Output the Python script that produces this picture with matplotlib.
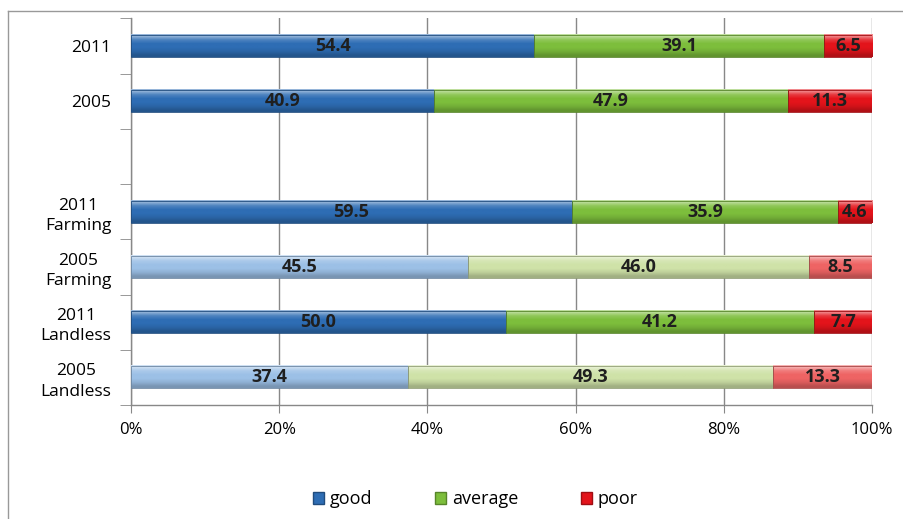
import matplotlib.pyplot as plt
import matplotlib.colors as mcolors
from matplotlib.lines import Line2D
from matplotlib.patches import Patch
import numpy as np

categorias = ["2011", "2005", "", "2011\nFarming", "2005\nFarming", "2011\nLandless", "2005\nLandless"]
bueno = [54.4, 40.9, np.nan, 59.5, 45.5, 50.0, 37.4]
medio = [39.1, 47.9, np.nan, 35.9, 46.0, 41.2, 49.3]
pobre = [6.5, 11.3, np.nan, 4.6, 8.5, 7.7, 13.3]
# filas 2005 por grupo dibujadas en tono claro
claro = [False, False, False, False, True, False, True]

series = ["good", "average", "poor"]
colores = {"good": "#2E6DB4", "average": "#7DBE3C", "poor": "#E3141B"}
colores_claros = {"good": "#9CC0E6", "average": "#CFE2A8", "poor": "#EE6464"}

plt.rcParams["font.family"] = ["Open Sans", "DejaVu Sans"]


def relleno_degradado(ax, barra, color):
    """Rellena una barra con un degradado vertical tipo bisel."""
    x, y = barra.get_x(), barra.get_y()
    w, h = barra.get_width(), barra.get_height()
    base = np.array(mcolors.to_rgb(color))
    luz = base + (1 - base) * 0.5
    sombra = base * 0.78
    filas = np.array([luz, base + (1 - base) * 0.15, base, base, base * 0.92, sombra])
    ax.imshow(filas[:, None, :], extent=(x, x + w, y, y + h), origin="upper",
              aspect="auto", interpolation="bilinear", zorder=3)


def main():
    fig = plt.figure(figsize=(9.04, 5.19), dpi=100)
    ax = fig.add_axes([0.1449, 0.2197, 0.8197, 0.7447])

    n = len(categorias)
    posiciones = np.arange(n)[::-1].astype(float)
    datos = np.array([bueno, medio, pobre], dtype=float)
    totales = np.nansum(datos, axis=0)
    totales[totales == 0] = 1
    fracciones = datos / totales

    izquierda = np.zeros(n)
    for k, nombre in enumerate(series):
        for i in range(n):
            if np.isnan(fracciones[k, i]):
                continue
            color = colores_claros[nombre] if claro[i] else colores[nombre]
            barra = ax.barh(posiciones[i], fracciones[k, i], left=izquierda[i], height=0.4,
                            color=color, edgecolor=np.array(mcolors.to_rgb(color)) * 0.7,
                            linewidth=0.6, zorder=4)[0]
            barra.set_facecolor("none")
            relleno_degradado(ax, barra, color)
            ax.text(izquierda[i] + fracciones[k, i] / 2, posiciones[i], f"{datos[k, i]:.1f}",
                    ha="center", va="center", fontsize=13, fontweight="bold",
                    color="#1f1f1f", zorder=5)
            izquierda[i] += fracciones[k, i]

    ax.set_xlim(0, 1)
    ax.set_ylim(-0.5, n - 0.5)
    ax.set_xticks(np.linspace(0, 1, 6))
    ax.set_xticklabels([f"{int(v)}%" for v in np.linspace(0, 100, 6)], fontsize=12)
    ax.set_yticks(posiciones)
    ax.set_yticklabels(categorias, fontsize=12.5, linespacing=1.35,
                       ha="right", multialignment="center")
    ax.set_yticks(np.arange(n + 1) - 0.5, minor=True)
    ax.tick_params(axis="y", which="major", length=0, pad=14)
    ax.tick_params(axis="y", which="minor", length=8, color="#888888")
    ax.tick_params(axis="x", length=6, color="#888888", pad=6)

    ax.grid(axis="x", color="#888888", linewidth=1.0, zorder=1)
    ax.set_axisbelow(True)
    for lado in ["top", "right"]:
        ax.spines[lado].set_visible(False)
    for lado in ["left", "bottom"]:
        ax.spines[lado].set_color("#888888")
        ax.spines[lado].set_linewidth(1.0)

    manijas = [Patch(facecolor=colores[s], edgecolor=np.array(mcolors.to_rgb(colores[s])) * 0.7)
               for s in series]
    fig.legend(manijas, series, loc="center", bbox_to_anchor=(0.526, 0.038), ncol=3,
               frameon=False, fontsize=13, handlelength=0.6, handleheight=0.6,
               handletextpad=0.3, columnspacing=3.5)

    # marco de la figura (izquierda y arriba)
    fig.add_artist(Line2D([8 / 904, 8 / 904], [0, 1 - 11 / 519], color="#999999", linewidth=1.0))
    fig.add_artist(Line2D([8 / 904, 1], [1 - 11 / 519, 1 - 11 / 519], color="#999999", linewidth=1.0))

    fig.savefig("out.png", dpi=100)


if __name__ == "__main__":
    main()
